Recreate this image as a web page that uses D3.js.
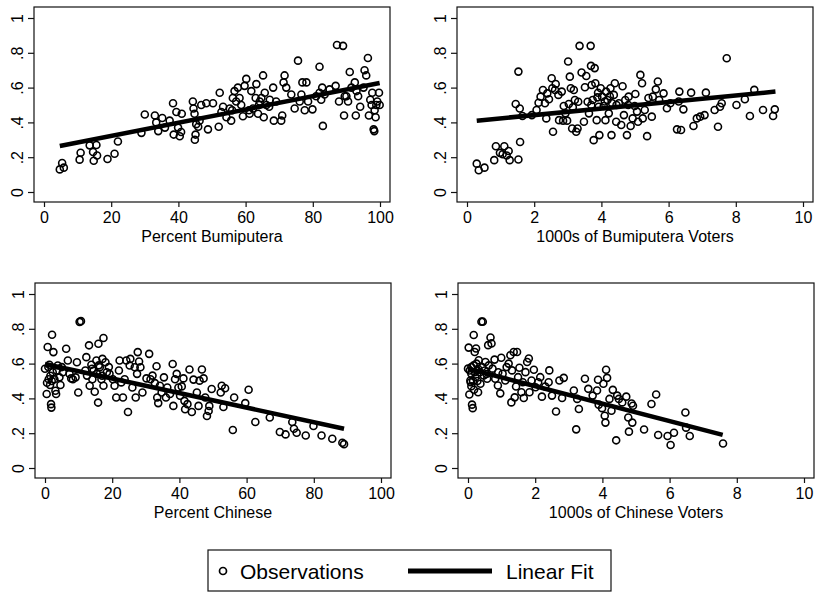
<!DOCTYPE html>
<html>
<head>
<meta charset="utf-8">
<script src="https://cdn.jsdelivr.net/npm/d3@7"></script>
<style>
  body { margin: 0; background: #fff; }
  svg { display: block; font-family: "Liberation Sans", Arial, Helvetica, sans-serif; }
</style>
</head>
<body>
<svg id="chart" width="816" height="593"></svg>
<script>
// observations: [x, vote share]
const pctBumiputera = [
  [4.7,.13],[5.4,.167],[5.9,.14],[10.6,.186],[10.9,.226],[13.6,.268],[14.6,.23],[14.8,.18],[15.6,.27],[15.8,.21],
  [18.9,.19],[21,.22],[22,.29],[29,.34],[30,.445],[33,.44],[33.4,.40],[34,.35],[35.2,.425],[36,.37],
  [37.4,.41],[38.4,.51],[38.6,.33],[39.4,.46],[39.9,.37],[40.4,.32],[40.8,.345],[41,.45],[44.3,.52],[44.5,.48],
  [44.8,.45],[44.9,.30],[45.1,.33],[45.3,.39],[45.9,.375],[46.3,.41],[46.8,.50],[48.3,.51],[48.8,.36],[50.3,.51],
  [52,.375],[52.3,.57],[52.8,.46],[53.3,.49],[54.3,.43],[55.3,.48],[55.7,.41],[56.2,.54],[56.7,.58],[57.2,.52],
  [57.7,.60],[58.2,.54],[58.7,.50],[59.2,.435],[59.7,.61],[60.2,.65],[61.2,.45],[61.7,.58],[62.2,.48],[63,.54],
  [63.2,.62],[63.7,.45],[64.2,.52],[64.7,.54],[65.2,.67],[65.4,.43],[65.7,.57],[66.2,.50],[67.2,.53],[68.2,.60],
  [68.4,.41],[69.1,.52],[70.6,.41],[70.9,.44],[71.3,.63],[71.6,.67],[72.1,.60],[73.6,.56],[74.6,.48],[75.6,.755],
  [76.1,.52],[76.6,.56],[76.9,.63],[77.6,.47],[78.1,.63],[78.6,.52],[79.9,.475],[81,.55],[82,.72],[82.5,.53],
  [82.8,.60],[83,.38],[83.5,.56],[85,.59],[86.8,.61],[87.2,.845],[87.8,.52],[89,.84],[89.3,.44],[90,.55],
  [90.5,.52],[91,.69],[91.5,.60],[92.5,.63],[92.8,.44],[93.5,.55],[94.1,.49],[95.1,.60],[95.4,.70],[95.9,.67],
  [96.4,.77],[96.7,.44],[97.1,.53],[97.7,.57],[98.1,.36],[98.3,.35],[98.4,.47],[98.7,.43],[98.9,.50],[99.2,.52],
  [99.7,.57],[99.9,.50],[61,.47],[64,.50],[56,.47],[82,.57],[89.5,.55],[93,.58],[97.5,.50],[67,.49]
];
const bumiVoters = [
  [.29,.163],[.35,.125],[.52,.14],[.81,.183],[.86,.263],[.98,.225],[1.06,.217],[1.11,.263],[1.18,.21],[1.24,.236],
  [1.27,.183],[1.53,.187],[1.58,.287],[1.45,.506],[1.53,.692],[1.57,.48],[1.65,.437],[1.93,.442],[2.07,.471],[2.13,.513],
  [2.19,.548],[2.26,.586],[2.32,.51],[2.36,.423],[2.39,.567],[2.44,.533],[2.52,.654],[2.54,.596],[2.56,.346],[2.62,.586],
  [2.64,.621],[2.72,.558],[2.74,.413],[2.82,.577],[2.86,.41],[2.88,.494],[2.93,.452],[2.98,.41],[3.01,.75],[3.03,.506],
  [3.06,.663],[3.09,.596],[3.13,.365],[3.15,.487],[3.18,.586],[3.21,.529],[3.25,.346],[3.29,.365],[3.31,.519],[3.35,.84],
  [3.41,.687],[3.48,.404],[3.51,.602],[3.55,.667],[3.59,.519],[3.63,.452],[3.68,.84],[3.69,.725],[3.71,.615],[3.74,.529],
  [3.77,.298],[3.8,.712],[3.82,.625],[3.86,.413],[3.88,.544],[3.92,.49],[3.94,.327],[3.98,.596],[4.02,.548],[4.07,.494],
  [4.12,.413],[4.14,.577],[4.18,.529],[4.22,.452],[4.27,.596],[4.3,.327],[4.32,.51],[4.37,.558],[4.4,.625],[4.44,.404],
  [4.52,.51],[4.59,.385],[4.63,.608],[4.67,.442],[4.71,.529],[4.76,.327],[4.81,.548],[4.87,.379],[4.93,.423],[4.99,.494],
  [5.01,.563],[5.06,.462],[5.09,.404],[5.16,.673],[5.21,.625],[5.23,.423],[5.29,.471],[5.36,.321],[5.5,.433],[5.53,.548],
  [5.62,.59],[5.68,.635],[5.72,.529],[5.85,.567],[5.95,.481],[6.05,.51],[6.25,.36],[6.32,.577],[6.37,.356],[6.44,.475],
  [6.67,.571],[6.74,.379],[6.84,.423],[6.94,.433],[7.07,.442],[7.11,.571],[7.37,.471],[7.47,.375],[7.53,.49],[7.58,.51],
  [7.73,.769],[8.02,.5],[8.27,.533],[8.42,.437],[8.55,.587],[8.81,.471],[9.11,.437],[9.16,.475],[3.9,.57],[4.1,.52],
  [4.25,.55],[3.7,.5],[4.45,.5],[4.8,.5],[5.4,.54],[6.3,.52]
];
const pctChinese = [
  [0,.57],[.5,.425],[.8,.695],[1.1,.51],[1.3,.593],[1.5,.477],[1.8,.367],[1.9,.347],[2.1,.766],[2.3,.55],
  [2.5,.666],[2.8,.51],[3.1,.444],[3.3,.425],[3.8,.589],[4.3,.521],[4.6,.477],[5.3,.55],[6.3,.685],[6.8,.618],
  [7.3,.541],[7.8,.515],[8.3,.51],[9.1,.521],[9.5,.608],[9.9,.434],[10.3,.84],[10.7,.844],[12.3,.637],[12.5,.531],
  [13.1,.705],[13.3,.473],[13.8,.593],[14.1,.51],[14.5,.56],[14.8,.438],[15.3,.618],[15.5,.541],[15.8,.376],[15.9,.714],
  [16.3,.579],[16.8,.51],[17.1,.627],[17.4,.747],[17.4,.473],[18,.608],[18.4,.55],[19.2,.541],[20.2,.51],[20.7,.473],
  [21.2,.405],[22,.56],[22.2,.618],[22.7,.492],[23.2,.405],[23.7,.51],[24.2,.618],[24.7,.322],[25.2,.589],[25.4,.627],
  [26,.463],[26.7,.579],[27,.405],[27.4,.541],[27.6,.666],[28,.612],[28.4,.579],[29,.434],[30.2,.515],[31,.656],
  [31.4,.51],[32,.531],[32.7,.488],[33.2,.585],[33.4,.405],[33.7,.373],[34.2,.473],[34.7,.434],[35.4,.521],[36,.405],
  [36.4,.463],[37.2,.425],[38,.598],[38.2,.357],[38.7,.51],[39.2,.541],[39.7,.463],[40.2,.415],[40.7,.469],[41.2,.515],
  [41.5,.386],[41.7,.338],[42.4,.367],[43,.566],[43.7,.322],[44.2,.508],[45.2,.434],[45.7,.357],[46,.502],[46.7,.566],
  [47.2,.515],[47.7,.405],[48.2,.299],[48.7,.328],[48.9,.357],[49.6,.454],[52.3,.434],[52.6,.473],[53.1,.351],[53.6,.458],
  [55.9,.218],[56.3,.405],[59.6,.373],[60.6,.45],[62.6,.264],[66.9,.29],[69.9,.207],[71.6,.193],[73.6,.264],[74.1,.226],
  [74.9,.203],[77.6,.187],[79.9,.241],[82.3,.187],[85.5,.168],[88.5,.145],[89,.137],[1,.58],[1.6,.53],[2,.5],
  [3.5,.56],[5,.58],[12,.56],[14,.57],[16,.59],[17,.53],[19,.58],[0.6,.49]
];
const chineseVoters = [
  [0,.571],[.02,.692],[.04,.422],[.07,.503],[.08,.493],[.1,.542],[.12,.364],[.14,.344],[.17,.764],[.17,.59],
  [.2,.667],[.22,.522],[.24,.687],[.27,.561],[.3,.435],[.32,.619],[.37,.484],[.4,.841],[.44,.841],[.47,.532],
  [.52,.609],[.57,.513],[.6,.706],[.67,.75],[.7,.716],[.73,.571],[.79,.623],[.81,.513],[.89,.474],[.96,.429],
  [.99,.634],[1.03,.542],[1.11,.503],[1.21,.6],[1.26,.648],[1.29,.377],[1.31,.561],[1.36,.667],[1.39,.406],[1.43,.468],
  [1.46,.667],[1.49,.522],[1.53,.576],[1.59,.435],[1.63,.493],[1.66,.402],[1.71,.551],[1.76,.609],[1.81,.629],[1.83,.435],
  [1.89,.503],[1.96,.565],[2.01,.464],[2.09,.493],[2.15,.522],[2.2,.41],[2.3,.468],[2.4,.493],[2.42,.561],[2.5,.416],
  [2.62,.325],[2.72,.503],[2.8,.402],[2.85,.518],[3.15,.445],[3.22,.222],[3.25,.397],[3.3,.339],[3.48,.513],[3.58,.455],
  [3.71,.416],[3.84,.445],[3.87,.507],[3.89,.364],[3.99,.344],[4.03,.484],[4.07,.3],[4.09,.261],[4.11,.565],[4.14,.518],
  [4.21,.397],[4.27,.329],[4.31,.449],[4.41,.159],[4.44,.416],[4.49,.397],[4.59,.377],[4.71,.41],[4.77,.29],[4.79,.209],
  [4.87,.371],[4.89,.261],[4.91,.358],[5.24,.221],[5.46,.368],[5.6,.422],[5.66,.19],[5.94,.184],[6.03,.132],[6.13,.203],
  [6.47,.319],[6.49,.232],[6.6,.184],[7.59,.141],[.05,.56],[.1,.58],[.15,.5],[.2,.55],[.25,.6],[.3,.57],
  [.35,.55],[.1,.47],[.18,.45],[.28,.5],[.42,.58],[.5,.56],[.55,.54],[.62,.59],[.9,.55],[1.15,.58]
];

// linear fit end points
const fitPctBumiputera = [[4.7,.264],[99.9,.626]];
const fitBumiVoters = [[.29,.41],[9.18,.577]];
const fitPctChinese = [[0,.598],[89,.226]];
const fitChineseVoters = [[0,.571],[7.58,.19]];

const pctTicks = [0,20,40,60,80,100];
const voterTicks = [0,2,4,6,8,10];
const shareTicks = [0,.2,.4,.6,.8,1];
const shareLabels = ["0",".2",".4",".6",".8","1"];
const legendLabels = ["Observations","Linear Fit"];

const panels = [
  { data: pctBumiputera, fit: fitPctBumiputera, ticks: pctTicks, title: "Percent Bumiputera", left: 34, top: 7 },
  { data: bumiVoters, fit: fitBumiVoters, ticks: voterTicks, title: "1000s of Bumiputera Voters", left: 457, top: 7 },
  { data: pctChinese, fit: fitPctChinese, ticks: pctTicks, title: "Percent Chinese", left: 35, top: 283 },
  { data: chineseVoters, fit: fitChineseVoters, ticks: voterTicks, title: "1000s of Chinese Voters", left: 458, top: 283 }
];

const panelW = 356, panelH = 195;
const svg = d3.select("#chart");

panels.forEach(p => {
  const g = svg.append("g").attr("transform", `translate(${p.left}, ${p.top})`);

  const x = d3.scaleLinear()
    .domain(d3.extent(p.ticks))
    .range([10, panelW - 10]);
  const y = d3.scaleLinear()
    .domain([0, 1])
    .range([panelH - 10, 11]);

  // frame
  g.append("rect")
    .attr("width", panelW)
    .attr("height", panelH)
    .attr("fill", "#fff")
    .attr("stroke", "#111")
    .attr("stroke-width", 1.2);

  // y axis, labels turned on their side
  const yAxis = g.append("g")
    .call(d3.axisLeft(y).tickValues(shareTicks).tickFormat((d, i) => shareLabels[i]).tickSize(6).tickPadding(0));
  yAxis.select(".domain").remove();
  yAxis.selectAll("line").attr("stroke", "#111").attr("stroke-width", 1.2);
  yAxis.selectAll("text")
    .attr("transform", "rotate(-90)")
    .attr("x", 0)
    .attr("y", -11)
    .attr("dy", 0)
    .attr("fill", "#000")
    .style("font-size", "16px")
    .style("font-family", "'Liberation Sans', Arial, sans-serif")
    .style("text-anchor", "middle");

  // x axis
  const xAxis = g.append("g")
    .attr("transform", `translate(0, ${panelH})`)
    .call(d3.axisBottom(x).tickValues(p.ticks).tickSize(5).tickPadding(5));
  xAxis.select(".domain").remove();
  xAxis.selectAll("line").attr("stroke", "#111").attr("stroke-width", 1.2);
  xAxis.selectAll("text")
    .attr("fill", "#000")
    .style("font-size", "16px")
    .style("font-family", "'Liberation Sans', Arial, sans-serif");

  // x axis title
  g.append("text")
    .attr("x", panelW / 2)
    .attr("y", panelH + 40)
    .style("text-anchor", "middle")
    .style("font-size", "16px")
    .text(p.title);

  // observations
  g.selectAll(".obs")
    .data(p.data)
    .enter().append("circle")
    .attr("class", "obs")
    .attr("cx", d => x(d[0]))
    .attr("cy", d => y(d[1]))
    .attr("r", 3.5)
    .attr("fill", "none")
    .attr("stroke", "#000")
    .attr("stroke-width", 1.6);

  // linear fit
  g.append("path")
    .datum(p.fit)
    .attr("d", d3.line().x(d => x(d[0])).y(d => y(d[1])))
    .attr("fill", "none")
    .attr("stroke", "#000")
    .attr("stroke-width", 4.5);
});

// legend
const legend = svg.append("g").attr("transform", "translate(208, 550)");
legend.append("rect")
  .attr("width", 403)
  .attr("height", 41)
  .attr("fill", "#fff")
  .attr("stroke", "#111")
  .attr("stroke-width", 1.2);
legend.append("circle")
  .attr("cx", 15)
  .attr("cy", 21)
  .attr("r", 3.5)
  .attr("fill", "none")
  .attr("stroke", "#000")
  .attr("stroke-width", 1.7);
legend.append("text")
  .attr("x", 32)
  .attr("y", 21)
  .attr("dy", "0.36em")
  .style("font-size", "21px")
  .text(legendLabels[0]);
legend.append("line")
  .attr("x1", 200)
  .attr("x2", 284)
  .attr("y1", 21)
  .attr("y2", 21)
  .attr("stroke", "#000")
  .attr("stroke-width", 5);
legend.append("text")
  .attr("x", 298)
  .attr("y", 21)
  .attr("dy", "0.36em")
  .style("font-size", "21px")
  .text(legendLabels[1]);
</script>
</body>
</html>
